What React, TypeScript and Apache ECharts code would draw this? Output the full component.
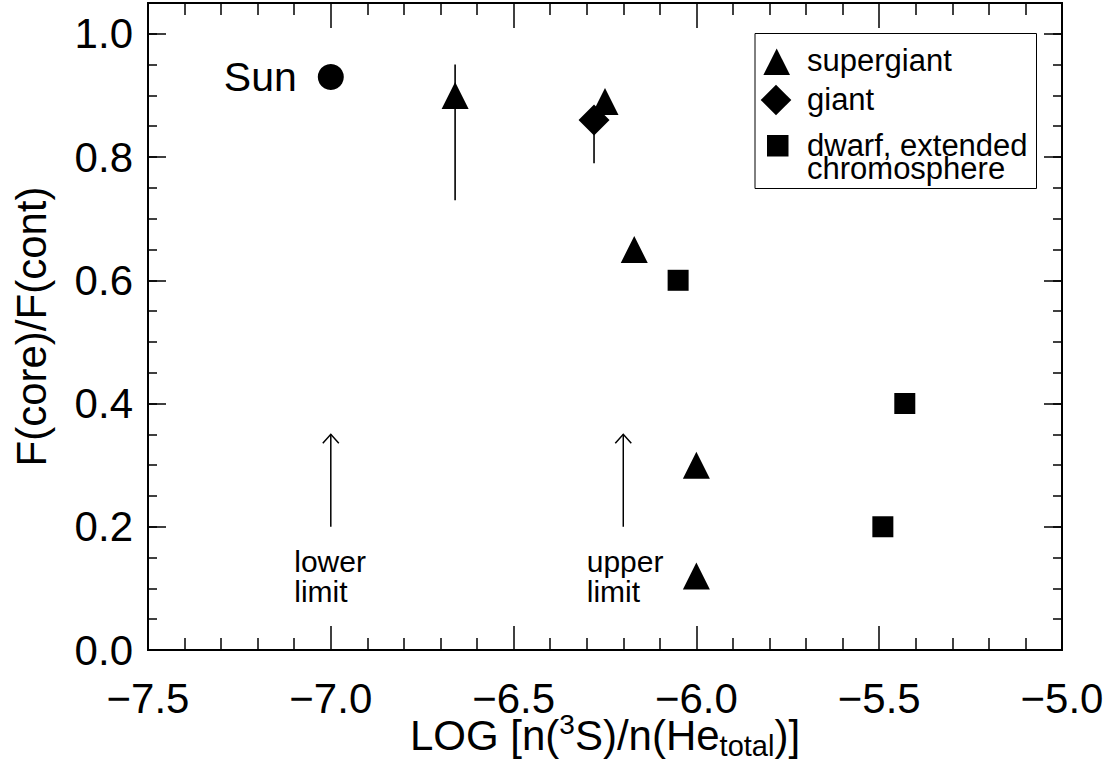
import React, { useEffect, useRef } from 'react';
import * as echarts from 'echarts';

const FONT = '"Liberation Sans", Arial, Helvetica, sans-serif';

// axis ranges
const X_MIN = -7.5;
const X_MAX = -5.0;
const X_STEP = 0.5;
const Y_MIN = 0;
const Y_MAX = 1.05;
const Y_STEP = 0.2;
const Y_MINOR_STEP = 0.05;

// data (x = LOG[n(3S)/n(He_total)], y = F(core)/F(cont))
const sunPoint: number[][] = [[-7.0, 0.93]];
const supergiantPoints: number[][] = [
  [-6.66, 0.9],
  [-6.25, 0.89],
  [-6.17, 0.65],
  [-6.0, 0.3],
  [-6.0, 0.12],
];
const giantPoints: number[][] = [[-6.28, 0.86]];
const dwarfPoints: number[][] = [
  [-6.05, 0.6],
  [-5.43, 0.4],
  [-5.49, 0.2],
];
// error bars: [x, low, high]
const errorBars: number[][] = [
  [-6.66, 0.73, 0.95],
  [-6.28, 0.79, 0.86],
];
// limit arrows: [x, from, to]
const limitArrows: number[][] = [
  [-7.0, 0.2, 0.35],
  [-6.2, 0.2, 0.35],
];
// annotation texts
const limitLabelPos: number[][] = [
  [-7.1, 0.12],
  [-6.3, 0.12],
];
const limitLabelText: string[] = ['lower\nlimit', 'upper\nlimit'];

const SERIES_NAMES = ['supergiant', 'giant', 'dwarf, extended\nchromosphere'];

const fmt = (v: number) => {
  const s = v.toFixed(1);
  return s.startsWith('-') ? '\u2212' + s.slice(1) : s;
};

export default function App() {
  const ref = useRef<HTMLDivElement>(null);

  useEffect(() => {
    if (!ref.current) return;
    const chart = echarts.init(ref.current, undefined, { renderer: 'svg' });

    const black = '#000';
    const axisLine = { show: true, onZero: false, lineStyle: { color: black, width: 2 } };
    const legendText = (text: string, x: number, y: number) => ({
      type: 'text',
      x,
      y,
      z: 101,
      style: {
        text,
        fontSize: 31,
        lineHeight: 23,
        fontFamily: FONT,
        fill: black,
        align: 'left',
        verticalAlign: 'middle',
      },
    });

    const option: any = {
      animation: false,
      backgroundColor: '#fff',
      textStyle: { fontFamily: FONT },
      grid: { left: 148, right: 54, top: 3, bottom: 116, outerBoundsMode: 'none', containLabel: false },
      graphic: [
        {
          type: 'group',
          z: 100,
          children: [
            {
              type: 'rect',
              shape: { x: 755, y: 33.5, width: 281.5, height: 155 },
              style: { fill: '#fff', stroke: black, lineWidth: 1 },
            },
            {
              type: 'polygon',
              shape: { points: [[776.7, 48.4], [790, 75], [763.4, 75]] },
              style: { fill: black },
            },
            {
              type: 'polygon',
              shape: { points: [[776, 84.7], [791.3, 100], [776, 115.3], [760.7, 100]] },
              style: { fill: black },
            },
            {
              type: 'rect',
              shape: { x: 767, y: 135, width: 21.5, height: 21.5 },
              style: { fill: black },
            },
            legendText(SERIES_NAMES[0], 807, 60),
            legendText(SERIES_NAMES[1], 807, 99.3),
            legendText(SERIES_NAMES[2], 807, 157),
          ],
        },
      ],
      xAxis: [
        {
          type: 'value',
          position: 'bottom',
          min: X_MIN,
          max: X_MAX,
          interval: X_STEP,
          axisLine,
          axisTick: { show: true, inside: true, length: 24, lineStyle: { color: black, width: 1.5 } },
          minorTick: { show: true, splitNumber: 5, length: 12, lineStyle: { color: black, width: 1.5 } },
          splitLine: { show: false },
          minorSplitLine: { show: false },
          axisLabel: { margin: 27, fontSize: 42, color: black, fontFamily: FONT, formatter: fmt },
          name: '{m|LOG [n(}{sup|3}{m|S)/n(He}{sub|total}{m|)]}',
          nameLocation: 'middle',
          nameGap: 60,
          nameMoveOverlap: false,
          nameTextStyle: {
            color: black,
            fontFamily: FONT,
            fontSize: 42,
            rich: {
              m: { fontSize: 42, lineHeight: 50, fontFamily: FONT, color: black },
              sup: { fontSize: 28, lineHeight: 30, verticalAlign: 'top', fontFamily: FONT, color: black },
              sub: { fontSize: 29, lineHeight: 16, verticalAlign: 'bottom', fontFamily: FONT, color: black },
            },
          },
        },
        {
          type: 'value',
          position: 'top',
          min: X_MIN,
          max: X_MAX,
          interval: X_STEP,
          axisLine,
          axisTick: { show: true, inside: true, length: 25, lineStyle: { color: black, width: 1.5 } },
          minorTick: { show: true, splitNumber: 5, length: 12, lineStyle: { color: black, width: 1.5 } },
          splitLine: { show: false },
          minorSplitLine: { show: false },
          axisLabel: { show: false },
        },
      ],
      yAxis: [
        {
          type: 'value',
          position: 'left',
          min: Y_MIN,
          max: Y_MAX,
          interval: Y_STEP,
          axisLine,
          axisTick: { show: true, inside: true, length: 18, lineStyle: { color: black, width: 1.5 } },
          splitLine: { show: false },
          axisLabel: {
            margin: 15,
            fontSize: 42,
            color: black,
            fontFamily: FONT,
            showMaxLabel: false,
            formatter: (v: number) => (v > 1.001 ? '' : v.toFixed(1)),
          },
          name: 'F(core)/F(cont)',
          nameLocation: 'middle',
          nameGap: 96,
          nameMoveOverlap: false,
          nameTextStyle: { fontSize: 42, color: black, fontFamily: FONT },
        },
        {
          type: 'value',
          position: 'left',
          min: Y_MIN,
          max: Y_MAX,
          interval: Y_MINOR_STEP,
          axisLine,
          axisTick: { show: true, inside: true, length: 9, lineStyle: { color: black, width: 1.5 } },
          splitLine: { show: false },
          axisLabel: { show: false },
        },
        {
          type: 'value',
          position: 'right',
          min: Y_MIN,
          max: Y_MAX,
          interval: Y_STEP,
          axisLine,
          axisTick: { show: true, inside: true, length: 18, lineStyle: { color: black, width: 1.5 } },
          splitLine: { show: false },
          axisLabel: { show: false },
        },
        {
          type: 'value',
          position: 'right',
          min: Y_MIN,
          max: Y_MAX,
          interval: Y_MINOR_STEP,
          axisLine,
          axisTick: { show: true, inside: true, length: 9, lineStyle: { color: black, width: 1.5 } },
          splitLine: { show: false },
          axisLabel: { show: false },
        },
      ],
      series: [
        {
          type: 'custom',
          name: 'errorbars',
          xAxisIndex: 0,
          yAxisIndex: 0,
          z: 1,
          encode: { x: 0, y: [1, 2] },
          data: errorBars,
          renderItem: (params: any, api: any) => {
            const lo = api.coord([api.value(0), api.value(1)]);
            const hi = api.coord([api.value(0), api.value(2)]);
            return {
              type: 'line',
              shape: { x1: lo[0], y1: lo[1], x2: hi[0], y2: hi[1] },
              style: { stroke: black, lineWidth: 1.6 },
            };
          },
        },
        {
          type: 'custom',
          name: 'limits',
          xAxisIndex: 0,
          yAxisIndex: 0,
          z: 1,
          encode: { x: 0, y: [1, 2] },
          data: limitArrows,
          renderItem: (params: any, api: any) => {
            const a = api.coord([api.value(0), api.value(1)]);
            const b = api.coord([api.value(0), api.value(2)]);
            return {
              type: 'group',
              children: [
                {
                  type: 'line',
                  shape: { x1: a[0], y1: a[1], x2: b[0], y2: b[1] },
                  style: { stroke: black, lineWidth: 1.5 },
                },
                {
                  type: 'polyline',
                  shape: {
                    points: [
                      [b[0] - 8, b[1] + 9],
                      [b[0], b[1]],
                      [b[0] + 8, b[1] + 9],
                    ],
                  },
                  style: { stroke: black, lineWidth: 1.5, fill: 'none' },
                },
              ],
            };
          },
        },
        {
          type: 'custom',
          name: 'limitLabels',
          xAxisIndex: 0,
          yAxisIndex: 0,
          z: 1,
          encode: { x: 0, y: 1 },
          data: limitLabelPos,
          renderItem: (params: any, api: any) => {
            const p = api.coord([api.value(0), api.value(1)]);
            return {
              type: 'text',
              x: p[0],
              y: p[1],
              style: {
                text: limitLabelText[params.dataIndex],
                fontSize: 30,
                lineHeight: 30,
                fontFamily: FONT,
                fill: black,
                align: 'left',
                verticalAlign: 'middle',
              },
            };
          },
        },
        {
          type: 'scatter',
          name: 'Sun',
          symbol: 'circle',
          symbolSize: 26,
          itemStyle: { color: black, opacity: 1 },
          data: sunPoint,
          label: {
            show: true,
            formatter: 'Sun',
            position: 'left',
            distance: 21,
            fontSize: 41,
            color: black,
            opacity: 1,
            fontFamily: FONT,
          },
        },
        {
          type: 'scatter',
          name: SERIES_NAMES[0],
          symbol: 'triangle',
          symbolSize: 27,
          itemStyle: { color: black, opacity: 1 },
          data: supergiantPoints,
        },
        {
          type: 'scatter',
          name: SERIES_NAMES[1],
          symbol: 'diamond',
          symbolSize: 31,
          itemStyle: { color: black, opacity: 1 },
          data: giantPoints,
        },
        {
          type: 'scatter',
          name: SERIES_NAMES[2],
          symbol: 'rect',
          symbolSize: 21,
          itemStyle: { color: black, opacity: 1 },
          data: dwarfPoints,
        },
      ],
    };

    chart.setOption(option);
    return () => {
      chart.dispose();
    };
  }, []);

  return (
    <div
      ref={ref}
      style={{ position: 'absolute', left: 0, top: 0, width: 1116, height: 766, background: '#fff' }}
    />
  );
}
